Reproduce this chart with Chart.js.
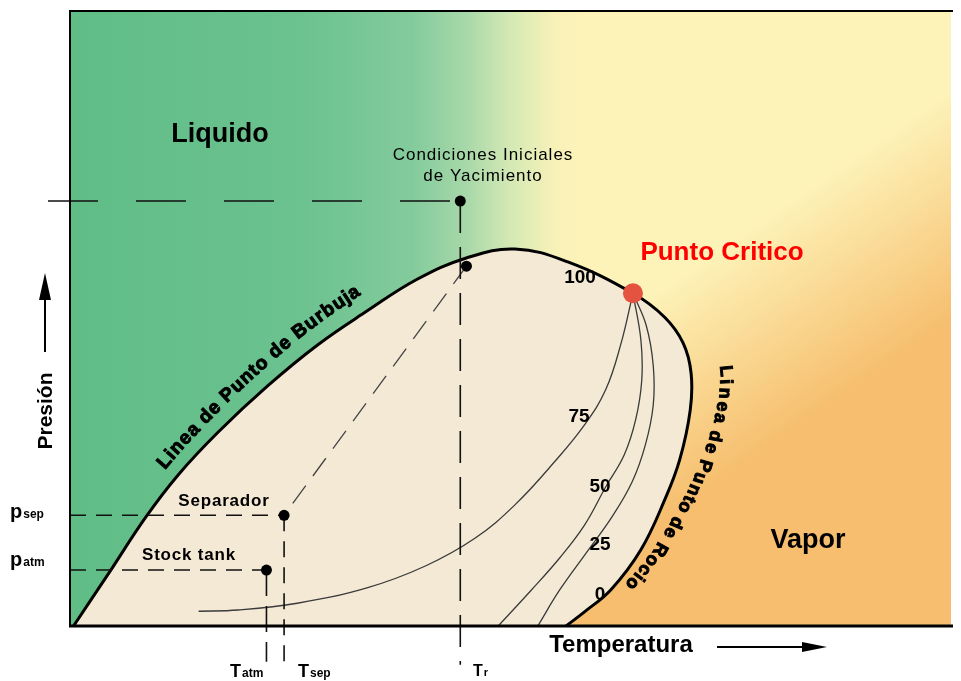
<!DOCTYPE html>
<html lang="es">
<head>
<meta charset="utf-8">
<title>Diagrama de fases</title>
<script src="https://cdn.jsdelivr.net/npm/chart.js@4.4.1/dist/chart.umd.min.js"></script>
<style>
  html, body { margin: 0; padding: 0; background: #fff; }
  #wrap { position: relative; width: 961px; height: 681px; }
</style>
</head>
<body>
<div id="wrap"><canvas id="chart"></canvas></div>
<script>
// Temperatura / Presión en unidades relativas (0-100)
const bubbleT = [0.4, 4.5, 8.6, 12.3, 16.8, 22.4, 28.1, 33.7, 39.3, 44.9, 50.5, 56.5, 63.9];
const bubbleP = [0, 8.8, 17.7, 24.6, 31.5, 39.0, 45.7, 51.2, 56.3, 59.8, 61.3, 59.2, 54.1];
const dewT = [67.5, 69.6, 70.5, 70.4, 69.2, 67.5, 64.8, 61.4, 58.4, 56.3];
const dewP = [50.2, 46.0, 41.1, 35.1, 27.0, 20.5, 12.4, 5.9, 2.3, 0];

// lineas de calidad (% liquido)
const q75T = [63.9, 62.5, 60.8, 58.4, 55.0, 50.5, 46.0, 40.4, 33.7, 25.8, 19.1, 14.6];
const q75P = [54.1, 45.7, 38.4, 32.7, 26.7, 19.7, 14.3, 9.8, 6.2, 3.7, 2.6, 2.4];
const q50T = [63.9, 64.8, 64.9, 64.2, 62.9, 60.8, 58.4, 55.6, 52.4, 48.6];
const q50P = [54.1, 46.5, 40.0, 33.5, 27.8, 22.6, 16.4, 11.1, 5.9, 0];
const q25T = [63.9, 65.4, 66.2, 66.2, 65.3, 63.8, 61.5, 58.6, 55.6, 53.1];
const q25P = [54.1, 48.9, 42.4, 35.9, 29.4, 23.4, 17.7, 11.9, 5.9, 0];

// estados: yacimiento, punto de burbuja, separador, stock tank
const stateT = [44.3, 45.0, 24.3, 22.3];
const stateP = [69.1, 58.5, 18.0, 9.1];
const critT = [63.9];
const critP = [54.1];

const pts = (xs, ys) => xs.map((x, i) => ({ x, y: ys[i] }));
const below = -6.3;   // how far the guide lines hang under the axis

const guide = (data, dash, width = 1.6, color = '#111') => ({
  data, showLine: true, borderColor: color, borderWidth: width, borderDash: dash,
  pointRadius: 0, fill: false, clip: false, tension: 0, order: 2
});
const quality = (xs, ys) => ({
  data: pts(xs, ys), showLine: true, borderColor: '#3a3a3a', borderWidth: 1.3,
  pointRadius: 0, fill: false, tension: 0.4, order: 3
});

const datasets = [
  { data: [...pts(bubbleT, bubbleP), ...pts(dewT, dewP)], showLine: true, borderColor: '#000', borderWidth: 3,
    backgroundColor: '#f4e9d5', fill: 'shape', tension: 0.4, pointRadius: 0, order: 4 },
  quality(q75T, q75P), quality(q50T, q50P), quality(q25T, q25P),
  guide([{ x: -2.5, y: stateP[0] }, { x: stateT[0], y: stateP[0] }], [50, 38]),
  guide([{ x: stateT[0], y: stateP[0] }, { x: stateT[0], y: below }], [32, 14]),
  guide([{ x: stateT[1], y: stateP[1] }, { x: stateT[2], y: stateP[2] }], [22, 12], 1.3, '#444'),
  guide([{ x: 0, y: stateP[2] }, { x: stateT[2], y: stateP[2] }], [16, 10]),
  guide([{ x: stateT[2], y: stateP[2] }, { x: stateT[2], y: below }], [16, 10]),
  guide([{ x: 0, y: stateP[3] }, { x: stateT[3], y: stateP[3] }], [16, 10]),
  guide([{ x: stateT[3], y: stateP[3] }, { x: stateT[3], y: below + 0.5 }], [26, 10]),
  { data: pts(stateT, stateP), pointRadius: 5.5, pointBackgroundColor: '#000', pointBorderWidth: 0, clip: false, order: 1 },
  { data: pts(critT, critP), pointRadius: 10, pointBackgroundColor: '#e3533f', pointBorderWidth: 0, order: 0 }
];

function sampleCurve(p, from, to) {
  const out = [];
  for (let i = from; i < to; i++) {
    const a = p[i], b = p[i + 1];
    const c1x = a.cp2x ?? a.x, c1y = a.cp2y ?? a.y, c2x = b.cp1x ?? b.x, c2y = b.cp1y ?? b.y;
    for (let k = 0; k < 24; k++) {
      const t = k / 24, u = 1 - t;
      out.push({
        x: u * u * u * a.x + 3 * u * u * t * c1x + 3 * u * t * t * c2x + t * t * t * b.x,
        y: u * u * u * a.y + 3 * u * u * t * c1y + 3 * u * t * t * c2y + t * t * t * b.y
      });
    }
  }
  out.push({ x: p[to].x, y: p[to].y });
  return out;
}

function curveText(ctx, poly, text, startY, off0, off1, font) {
  const cum = [0];
  for (let i = 1; i < poly.length; i++) cum.push(cum[i - 1] + Math.hypot(poly[i].x - poly[i - 1].x, poly[i].y - poly[i - 1].y));
  const at = d => {
    let i = 1;
    while (i < poly.length - 1 && cum[i] < d) i++;
    const a = poly[i - 1], b = poly[i], seg = cum[i] - cum[i - 1] || 1, t = (d - cum[i - 1]) / seg;
    return { x: a.x + (b.x - a.x) * t, y: a.y + (b.y - a.y) * t, dx: (b.x - a.x) / seg, dy: (b.y - a.y) / seg };
  };
  let s = 0;
  for (let i = 1; i < poly.length; i++) {
    if ((poly[i - 1].y - startY) * (poly[i].y - startY) <= 0) { s = cum[i]; break; }
  }
  ctx.save();
  ctx.font = font; ctx.fillStyle = '#000'; ctx.strokeStyle = '#000'; ctx.lineWidth = 1;
  ctx.textAlign = 'left'; ctx.textBaseline = 'alphabetic';
  const total = ctx.measureText(text).width;
  let acc = 0;
  for (const ch of text) {
    const w = ctx.measureText(ch).width;
    const p = at(s + acc + w / 2);
    const off = off0 + (off1 - off0) * (acc + w / 2) / total;
    ctx.save();
    ctx.translate(p.x + p.dy * off, p.y - p.dx * off);
    ctx.rotate(Math.atan2(p.dy, p.dx));
    ctx.fillText(ch, -w / 2, 0);
    ctx.strokeText(ch, -w / 2, 0);
    ctx.restore();
    acc += w + 0.8;
  }
  ctx.restore();
}

function label(ctx, s, x, y, font, color = '#000', spacing = '0px') {
  ctx.font = font; ctx.fillStyle = color; ctx.textAlign = 'center'; ctx.textBaseline = 'middle';
  ctx.letterSpacing = spacing;
  ctx.fillText(s, x, y);
  ctx.letterSpacing = '0px';
}

function subLabel(ctx, main, sub, x, base, mainFont, subFont) {
  ctx.textAlign = 'left'; ctx.textBaseline = 'alphabetic'; ctx.fillStyle = '#000';
  ctx.font = mainFont; ctx.fillText(main, x, base);
  const w = ctx.measureText(main).width;
  ctx.font = subFont; ctx.fillText(sub, x + w + 1, base);
}

function arrow(ctx, x1, y1, x2, y2, head, half) {
  const a = Math.atan2(y2 - y1, x2 - x1), bx = x2 - Math.cos(a) * head, by = y2 - Math.sin(a) * head;
  ctx.strokeStyle = '#000'; ctx.fillStyle = '#000'; ctx.lineWidth = 2;
  ctx.beginPath(); ctx.moveTo(x1, y1); ctx.lineTo(bx, by); ctx.stroke();
  ctx.beginPath(); ctx.moveTo(x2, y2);
  ctx.lineTo(bx - Math.sin(a) * half, by + Math.cos(a) * half);
  ctx.lineTo(bx + Math.sin(a) * half, by - Math.cos(a) * half);
  ctx.closePath(); ctx.fill();
}

const backdrop = {
  id: 'backdrop',
  beforeDraw(chart) {
    const { ctx, chartArea: a } = chart;
    ctx.save();
    const g = ctx.createLinearGradient(a.left, 0, a.right, 0);
    g.addColorStop(0, '#60bd86');
    g.addColorStop(0.26, '#6bc28f');
    g.addColorStop(0.39, '#84cb9c');
    g.addColorStop(0.45, '#a8d8a9');
    g.addColorStop(0.5, '#d4e9b4');
    g.addColorStop(0.55, '#f7f1b8');
    g.addColorStop(0.58, '#fdf3b9');
    g.addColorStop(1, '#fdf3b9');
    ctx.fillStyle = g;
    ctx.fillRect(a.left, a.top, a.width, a.height);
    const o = ctx.createLinearGradient(670, 280, 780, 440);
    o.addColorStop(0, 'rgba(246,190,110,0)');
    o.addColorStop(1, 'rgba(246,190,110,1)');
    ctx.fillStyle = o;
    ctx.fillRect(a.left, a.top, a.width, a.height);
    ctx.restore();
  }
};

const decor = {
  id: 'decor',
  afterDraw(chart) {
    const { ctx, chartArea: a } = chart;
    const env = chart.getDatasetMeta(0).data;
    const crit = bubbleT.length - 1;
    ctx.save();
    // frame
    ctx.strokeStyle = '#000';
    ctx.lineWidth = 2;
    ctx.beginPath(); ctx.moveTo(a.right + 2, a.top); ctx.lineTo(a.left, a.top); ctx.lineTo(a.left, a.bottom); ctx.stroke();
    ctx.lineWidth = 3;
    ctx.beginPath(); ctx.moveTo(a.left - 1, a.bottom); ctx.lineTo(a.right + 2, a.bottom); ctx.stroke();

    curveText(ctx, sampleCurve(env, 0, crit), 'Linea de Punto de Burbuja', 480, 13, 17, 'bold 19px "Liberation Sans", Arial, sans-serif');
    curveText(ctx, sampleCurve(env, crit, env.length - 1), 'Linea de Punto de Rocio', 368, 30, 8, 'bold 18px "Liberation Sans", Arial, sans-serif');

    const sans = '"Liberation Sans", Arial, sans-serif';
    label(ctx, 'Liquido', 220, 135, `bold 27px ${sans}`);
    label(ctx, 'Condiciones Iniciales', 483, 155, `17px ${sans}`, '#000', '1px');
    label(ctx, 'de Yacimiento', 483, 176, `17px ${sans}`, '#000', '1px');
    label(ctx, 'Punto Critico', 722, 253, `bold 26px ${sans}`, '#ff0000');
    label(ctx, 'Vapor', 808, 541, `bold 27px ${sans}`);
    label(ctx, 'Separador', 224, 501, `bold 17px ${sans}`, '#000', '0.8px');
    label(ctx, 'Stock tank', 189, 555, `bold 17px ${sans}`, '#000', '0.8px');
    label(ctx, '100', 580, 278, `bold 19px ${sans}`);
    label(ctx, '75', 579, 417, `bold 19px ${sans}`);
    label(ctx, '50', 600, 487, `bold 19px ${sans}`);
    label(ctx, '25', 600, 545, `bold 19px ${sans}`);
    label(ctx, '0', 600, 595, `bold 19px ${sans}`);
    label(ctx, 'Temperatura', 621, 645, `bold 24px ${sans}`);

    ctx.save();
    ctx.translate(46, 411);
    ctx.rotate(-Math.PI / 2);
    label(ctx, 'Presión', 0, 0, `bold 21px ${sans}`);
    ctx.restore();

    subLabel(ctx, 'p', 'sep', 10, 518, `bold 20px ${sans}`, `bold 12px ${sans}`);
    subLabel(ctx, 'p', 'atm', 10, 566, `bold 20px ${sans}`, `bold 12px ${sans}`);
    subLabel(ctx, 'T', 'atm', 230, 677, `bold 18px ${sans}`, `bold 12px ${sans}`);
    subLabel(ctx, 'T', 'sep', 298, 677, `bold 18px ${sans}`, `bold 12px ${sans}`);
    subLabel(ctx, 'T', 'r', 473, 676, `bold 16px ${sans}`, `bold 11px ${sans}`);

    arrow(ctx, 717, 647, 827, 647, 25, 5);
    arrow(ctx, 45, 352, 45, 273, 27, 6);
    ctx.restore();
  }
};

new Chart(document.getElementById('chart'), {
  type: 'scatter',
  data: { datasets },
  options: {
    responsive: true,
    maintainAspectRatio: false,
    animation: false,
    events: [],
    layout: { padding: { left: 70, top: 11, right: 0, bottom: 55 } },
    scales: {
      x: { type: 'linear', min: 0, max: 100, display: false },
      y: { type: 'linear', min: 0, max: 100, display: false }
    },
    plugins: { legend: { display: false }, tooltip: { enabled: false } }
  },
  plugins: [backdrop, decor]
});
</script>
</body>
</html>
